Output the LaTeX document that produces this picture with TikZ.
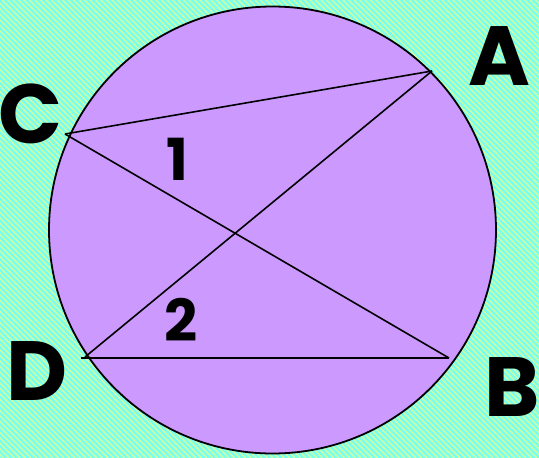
\documentclass[tikz,border=0pt]{standalone}
\usepackage{fontspec}
\setmainfont{Poppins}
\definecolor{bgcyan}{RGB}{120,255,240}
\definecolor{bgstripe}{RGB}{215,255,155}
\definecolor{disc}{RGB}{204,153,255}
\begin{document}
\begin{tikzpicture}[x=1pt,y=-1pt,
  chord/.style={line width=1.6pt,black},
  lbl/.style={font=\fontsize{84}{84}\selectfont\bfseries,inner sep=0pt},
  num/.style={font=\fontsize{58}{58}\selectfont\bfseries,inner sep=0pt}]
\useasboundingbox (0,0) rectangle (539,458);
\fill[bgcyan] (0,0) rectangle (539,458);
\begin{scope}
\clip (0,0) rectangle (539,458);
\foreach \k in {-460,-454.5,...,545}{
  \draw[bgstripe,line width=1.3pt] (\k,0) -- (\k+458,458);
}
\end{scope}
\node[circle,draw=black,line width=1.8pt,fill=disc,minimum size=447pt,inner sep=0pt] (circ) at (272.5,230) {};
\coordinate (A) at (432,71);
\coordinate (C) at (65,134);
\coordinate (D) at (81,358);
\coordinate (B) at (449,358);
\coordinate (Da) at (85,357);
\draw[chord] (C) -- (A);
\draw[chord] (C) -- (B);
\draw[chord] (Da) -- (A);
\draw[chord] (D) -- (B);
\node[lbl] (lA) at (499,56) {A};
\node[lbl] (lC) at (31,114) {C};
\node[lbl] (lD) at (37,371) {D};
\node[lbl] (lB) at (512,387) {B};
\node[num] (n1) at (177,159) {1};
\node[num] (n2) at (181,320) {2};
\end{tikzpicture}
\end{document}
